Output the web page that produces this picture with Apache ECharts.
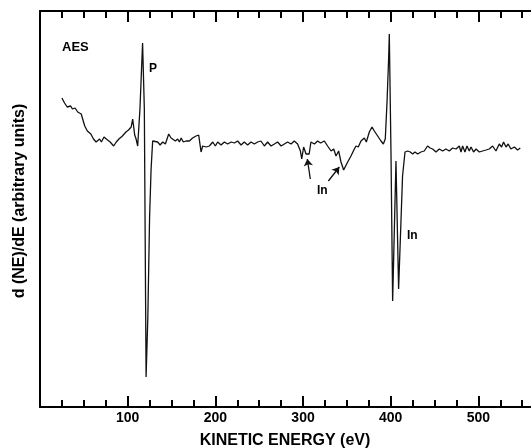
<!DOCTYPE html>
<html>
<head>
<meta charset="utf-8">
<script src="https://cdn.jsdelivr.net/npm/echarts@6/dist/echarts.min.js"></script>
<style>
  html, body { margin: 0; padding: 0; background: #fff; }
  #chart { width: 531px; height: 448px; }
</style>
</head>
<body>
<div id="chart"></div>
<script>
// kinetic energy (eV) and d(NE)/dE (arbitrary units)
const energy = [25,28,31,35,37,40,43,47,49,51,54,58,61,64,68,70,73,77,80,84,87,90,94,98,101,104,105.7,108,109.6,111.4,114,117,119,121,123,125,126.7,128.5,130.4,134.2,137,140,143,146.8,149.5,151.3,154.4,157,159,161,163.5,166.6,170.4,174,178,181,183.7,185.5,189.4,193.2,197,200,202.6,206.5,210.3,214,218,221.7,225.4,229.3,233,236.8,240.7,244.5,248.2,252,255.9,259.6,263.5,267.3,271,275,278.7,282.4,286.3,290,293.8,297,298.5,300.7,303.4,304.6,307,309,313,316.6,320,324.3,328,332,335,337.6,340.6,343.3,346.3,350.9,354.7,358.5,360.4,363,366.1,369.9,372.2,375.6,378.7,381.3,385.1,388.9,391.6,393.8,395.8,397.6,398.4,400.3,402.2,406,409,413.5,416.3,419.3,422.3,425,427.7,430.7,434.5,438.3,442,445,447.8,451.6,455.4,459.2,463,466.8,470.6,474.5,478.2,480.2,482,484.7,487,489.6,491.6,494.5,497.3,501,504.8,508.7,512.4,516.2,520,523.8,526.5,528.7,531.5,534,537,541,544.7,547.8];
const signal = [309,304,300,301,298,299,295,293,291,281,276,273,268,265,268,265,270,267,265,261,265,268,271,275,277,280,288,272,268,261,298,364,298,30,90,190,238,266,266,265,262,265,263,273,269,271,266,268,265,269,265,266,266,269,271,272,255,261,260,261,265,261,265,262,265,263,265,264,266,262,265,262,265,263,265,266,261,265,261,263,265,261,263,265,263,266,263,256,248,260,253,251,253,265,263,266,264,266,261,256,258,251,256,245,237,245,251,258,261,260,266,269,265,275,280,276,271,266,263,268,305,348,373,255,106,246,118,231,255,256,255,253,255,253,255,256,261,259,258,255,258,256,258,256,259,258,261,255,261,255,261,256,260,255,258,255,256,257,258,261,256,263,260,265,260,263,258,260,257,259];

// axis ticks
const majorTicks = [100, 200, 300, 400, 500];
const minorTicks = [25, 50, 75, 125, 150, 175, 225, 250, 275, 325, 350, 375, 425, 450, 475, 525, 550];

// arrows from the lower "In" label to the two In features
const inArrows = [
  [[308.3, 228], [304.9, 248]],
  [[328.9, 226], [341.4, 240]]
];

const chart = echarts.init(document.getElementById('chart'));
const font = '"Liberation Sans", Arial, Helvetica, sans-serif';

function xAxisDef(position, values, len, showLine, showLabel) {
  return {
    type: 'value',
    position: position,
    min: 0,
    max: 560,
    axisLine: { show: showLine, onZero: false, lineStyle: { color: '#000', width: 2 } },
    axisTick: { show: true, inside: true, length: len, customValues: values, lineStyle: { color: '#000', width: 2 } },
    axisLabel: {
      show: showLabel,
      customValues: values,
      margin: 4,
      color: '#000',
      fontFamily: font,
      fontWeight: 'bold',
      fontSize: 14
    },
    splitLine: { show: false }
  };
}

const option = {
  animation: false,
  backgroundColor: '#fff',
  grid: { left: 40, right: 0, top: 11, bottom: 41 },
  xAxis: [
    xAxisDef('bottom', minorTicks, 7, true, false),
    xAxisDef('bottom', majorTicks, 11, false, true),
    xAxisDef('top', minorTicks, 7, true, false),
    xAxisDef('top', majorTicks, 11, false, false)
  ],
  yAxis: {
    type: 'value',
    min: 0,
    max: 396,
    axisLine: { show: true, onZero: false, lineStyle: { color: '#000', width: 2 } },
    axisTick: { show: false },
    axisLabel: { show: false },
    splitLine: { show: false }
  },
  series: [{
    type: 'line',
    xAxisIndex: 0,
    data: energy.map((e, i) => [e, signal[i]]),
    symbol: 'none',
    lineStyle: { color: '#111', width: 1.3 },
    markLine: {
      silent: true,
      symbol: ['none', 'arrow'],
      symbolSize: 7,
      label: { show: false },
      lineStyle: { color: '#111', width: 1.3, type: 'solid' },
      data: inArrows.map(a => [{ coord: a[0] }, { coord: a[1] }])
    }
  }],
  graphic: [
    { type: 'text', left: 62, top: 41, style: { text: 'AES', font: 'bold 13px ' + font, fill: '#000' } },
    { type: 'text', left: 149, top: 63, style: { text: 'P', font: 'bold 12px ' + font, fill: '#000' } },
    { type: 'text', left: 317, top: 185, style: { text: 'In', font: 'bold 12px ' + font, fill: '#000' } },
    { type: 'text', left: 407, top: 230, style: { text: 'In', font: 'bold 12px ' + font, fill: '#000' } },
    { type: 'text', x: 285, y: 441, style: { text: 'KINETIC ENERGY (eV)', font: 'bold 16px ' + font, fill: '#000', align: 'center', verticalAlign: 'middle' } },
    { type: 'text', x: 20, y: 201, rotation: Math.PI / 2, style: { text: 'd (NE)/dE (arbitrary units)', font: 'bold 16px ' + font, fill: '#000', align: 'center', verticalAlign: 'middle' } }
  ]
};

chart.setOption(option);
</script>
</body>
</html>
